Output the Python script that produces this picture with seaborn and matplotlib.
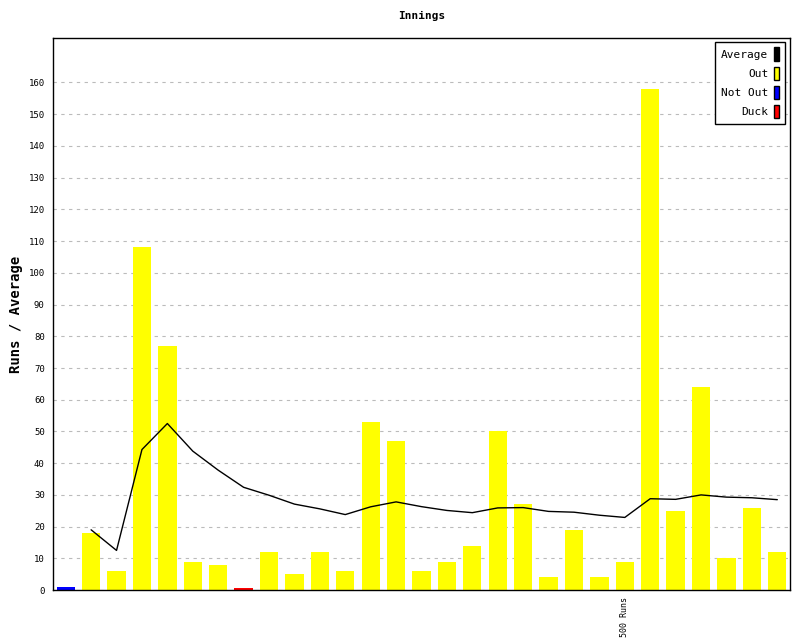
import pandas as pd
import seaborn as sbn
import matplotlib.pyplot as plt
from matplotlib.patches import Patch

# runs per innings
runs = [1, 18, 6, 108, 77, 9, 8, 0.6, 12, 5, 12, 6, 53, 47, 6, 9, 14, 50, 27,
        4, 19, 4, 9, 158, 25, 64, 10, 26, 12]
estado = ["Not Out", "Out", "Out", "Out", "Out", "Out", "Out", "Duck", "Out",
          "Out", "Out", "Out", "Out", "Out", "Out", "Out", "Out", "Out", "Out",
          "Out", "Out", "Out", "Out", "Out", "Out", "Out", "Out", "Out", "Out"]
# running average (starts at second innings)
promedio = [19, 12.5, 44.3, 52.5, 43.8, 37.8, 32.4, 29.9, 27.1, 25.6, 23.8,
            26.25, 27.8, 26.3, 25.1, 24.4, 25.9, 26.0, 24.8, 24.55, 23.6,
            22.9, 28.8, 28.6, 30.0, 29.3, 29.1, 28.5]
etiquetas = [""] * 22 + ["500 Runs"] + [""] * 6

colores = {"Out": "#ffff00", "Not Out": "#0000ff", "Duck": "#ff0000"}

df = pd.DataFrame({"inning": list(range(len(runs))), "runs": runs, "estado": estado})
df_prom = pd.DataFrame({"inning": list(range(1, len(runs))), "prom": promedio})

sbn.set_theme(style="white")
plt.rcParams['font.family'] = ['DejaVu Sans Mono']
plt.rcParams['text.color'] = 'black'
plt.rcParams['axes.labelcolor'] = 'black'
plt.rcParams['xtick.color'] = 'black'
plt.rcParams['ytick.color'] = 'black'

fig = plt.figure(figsize=(8, 6.4), dpi=100)
ax = fig.add_axes([0.06625, 0.078, 0.92125, 0.8625])

sbn.barplot(data=df, x="inning", y="runs", hue="estado", palette=colores,
            dodge=False, width=0.72, saturation=1, linewidth=0, legend=False, ax=ax)
sbn.lineplot(data=df_prom, x="inning", y="prom", color="black", linewidth=1, ax=ax)

ax.set_xlim(-0.5, len(runs) - 0.5)
ax.set_ylim(0, 174)
ax.set_yticks(range(0, 170, 10))
ax.set_xticks(range(len(runs)))
ax.set_xticklabels(etiquetas, rotation=90, fontsize=6)
ax.tick_params(axis="x", length=0, pad=5)
ax.tick_params(axis="y", direction="inout", length=8, width=1, labelsize=6.5, pad=2)
ax.yaxis.grid(True, linestyle=(0, (3, 4)), color="#bbbbbb", linewidth=0.8)
ax.set_axisbelow(True)
for s in ax.spines.values():
    s.set_color("black")
    s.set_linewidth(1)

ax.set_xlabel("")
ax.set_ylabel("Runs / Average", fontsize=10, fontweight="bold", labelpad=4)
ax.set_title("Innings", fontsize=8, fontweight="bold", pad=14)

handles = [Patch(facecolor="black", edgecolor="black", label="Average"),
           Patch(facecolor=colores["Out"], edgecolor="black", label="Out"),
           Patch(facecolor=colores["Not Out"], edgecolor="black", label="Not Out"),
           Patch(facecolor=colores["Duck"], edgecolor="black", label="Duck")]
leg = ax.legend(handles=handles, loc="upper right", markerfirst=False, fontsize=8,
                handlelength=0.5, handleheight=1.5, handletextpad=0.5,
                labelspacing=0.5, borderpad=0.5, borderaxespad=0, fancybox=False,
                framealpha=1, bbox_to_anchor=(0.993, 0.993))
leg.get_frame().set_edgecolor("black")
leg.get_frame().set_linewidth(1)
for t in leg.get_texts():
    t.set_ha("right")
    t.set_color("black")

plt.savefig("out.png", dpi=100)
